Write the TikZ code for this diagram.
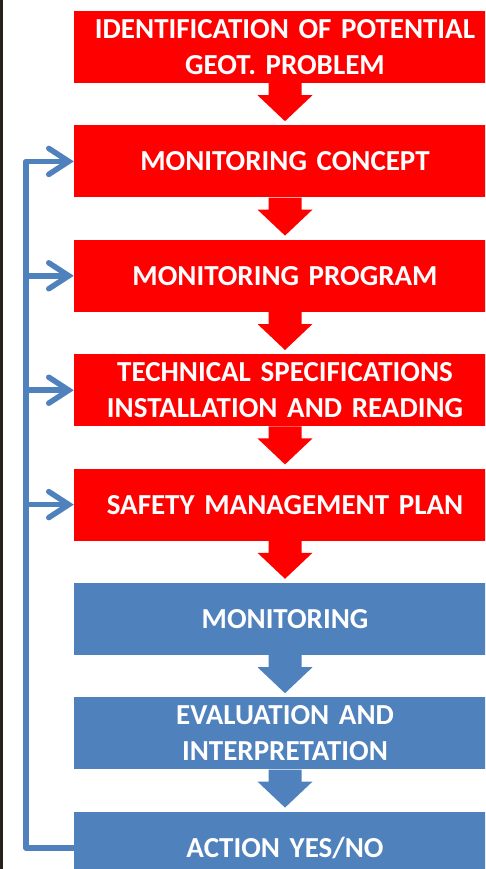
\documentclass[tikz,border=0pt]{standalone}
\usepackage{fontspec}
\setmainfont{Carlito}[WordSpace=0.7]
\usetikzlibrary{positioning,calc,arrows.meta}
\definecolor{flowred}{RGB}{255,0,0}
\definecolor{flowblue}{RGB}{79,129,189}
\definecolor{edgedark}{RGB}{38,33,27}
% block arrow from the bottom of one stage to the top of the next
\newcommand{\stagearrow}[3]{
  \fill[#3] ($(#1.south)+(-16.5,0)$) -- ++(0,-12) -- ++(-11,0)
    -- ($(#2.north)+(0,4)$) -- ($(#1.south)+(27.5,-12)$)
    -- ++(-11,0) -- ++(0,12) -- cycle;
}

\begin{document}
\begin{tikzpicture}[x=1pt,y=1pt,
  stage/.style={minimum width=422pt, minimum height=72pt, text width=415pt,
    align=center, inner sep=0pt, text=white,
    font=\fontsize{29}{36}\selectfont\bfseries},
  redstage/.style={stage, fill=flowred},
  bluestage/.style={stage, fill=flowblue},
  feedback/.style={draw=flowblue, line width=5.5pt, line join=round,
    -{Straight Barb[length=20pt,width=26pt,line cap=round]}},
  node distance=42pt]
\useasboundingbox (0,0) rectangle (485,-869);
\clip (0,0) rectangle (485,-869);
\fill[edgedark] (0,0) rectangle (3,-869);

% stages
\node[redstage] (ident) at (285,-47) {IDENTIFICATION OF POTENTIAL\\GEOT. PROBLEM};
\node[redstage, below=of ident] (concept) {MONITORING CONCEPT};
\node[redstage, below=of concept] (program) {MONITORING PROGRAM};
\node[redstage, below=of program] (specs) {TECHNICAL SPECIFICATIONS\\INSTALLATION AND READING};
\node[redstage, below=of specs] (safety) {SAFETY MANAGEMENT PLAN};
\node[bluestage, below=of safety] (monit) {MONITORING};
\node[bluestage, below=of monit] (evalu) {EVALUATION AND\\INTERPRETATION};
\node[bluestage, below=of evalu] (action) {ACTION YES/NO};

% arrows between stages
\foreach \a/\b/\c in {ident/concept/flowred, concept/program/flowred,
    program/specs/flowred, specs/safety/flowred, safety/monit/flowred,
    monit/evalu/flowblue, evalu/action/flowblue}{
  \stagearrow{\a}{\b}{\c}
}

% feedback loop
\coordinate (loop) at (26,0);
\draw[feedback] (action.west) -- (action.west -| loop) |- (concept.west);
\foreach \s in {program,specs,safety}
  \draw[feedback] (loop |- \s.west) -- (\s.west);
\end{tikzpicture}
\end{document}
